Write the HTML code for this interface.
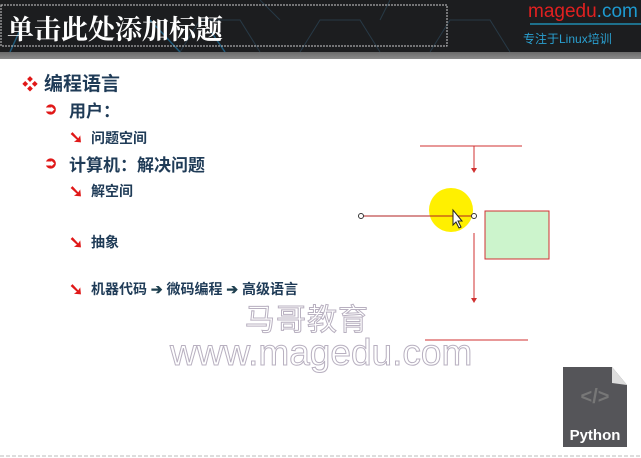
<!DOCTYPE html>
<html><head><meta charset="utf-8"><style>
body{margin:0;width:641px;height:458px;overflow:hidden;background:#fff;position:relative;font-family:"Liberation Sans","Noto Sans CJK SC",sans-serif}
.a{position:absolute;white-space:nowrap}
.hd{position:absolute;left:0;top:0;width:641px;height:52px;background:#1c1d1f}
.band{position:absolute;left:0;top:52px;width:641px;height:7px;background:linear-gradient(#6a6a6a,#8a8a8a)}
.t{color:#1f3b57;font-weight:bold}
.r{color:#e01818}
.ar{position:absolute;color:#e01818;font-size:17px;font-weight:bold;line-height:17px}
</style></head><body>
<div class="hd"></div>
<svg class="a" style="left:0;top:0" width="641" height="52">
<g stroke="#2a4150" stroke-width="1" fill="none" opacity=".8">
<path d="M180 52 L200 20 L240 20 L260 52 M260 0 L280 20 M300 52 L320 20 L360 20 L380 52 M390 0 L380 20 M430 52 L450 20 L490 20 L510 52"/>
</g>
<path d="M10 52 L20 30 M150 20 L180 52 M210 30 L225 52" stroke="#1f5a7a" stroke-width="1.5" fill="none"/>
<rect x="1" y="5" width="446" height="41" fill="none" stroke="#ccc" stroke-dasharray="2,1"/>
<line x1="530" y1="24" x2="641" y2="24" stroke="#1e8bb0" stroke-width="1.5"/>
</svg>
<div class="a" style="left:7px;top:8px;font-size:27px;color:#fff;font-weight:bold;font-family:'Noto Serif CJK SC',serif">单击此处添加标题</div>
<div class="a" style="left:528px;top:1px;font-size:19px;color:#e02020">magedu<span style="color:#1e9ad0">.com</span></div>
<div class="a" style="left:523px;top:30px;font-size:12px;color:#2aa0d0">专注于Linux培训</div>
<div class="band"></div>

<div class="a r" style="left:22px;top:71px;font-size:16px">❖</div>
<div class="a t" style="left:44px;top:69px;font-size:19px">编程语言</div>
<div class="ar" style="left:44px;top:101px;font-size:16px">➲</div>
<div class="a t" style="left:69px;top:97px;font-size:17px">用户：</div>
<div class="ar" style="left:69px;top:129px">➘</div>
<div class="a t" style="left:91px;top:128px;font-size:14px">问题空间</div>
<div class="ar" style="left:44px;top:155px;font-size:16px">➲</div>
<div class="a t" style="left:69px;top:151px;font-size:17px">计算机：解决问题</div>
<div class="ar" style="left:69px;top:183px">➘</div>
<div class="a t" style="left:91px;top:181px;font-size:14px">解空间</div>
<div class="ar" style="left:69px;top:234px">➘</div>
<div class="a t" style="left:91px;top:232px;font-size:14px">抽象</div>
<div class="ar" style="left:69px;top:281px">➘</div>
<div class="a t" style="left:91px;top:279px;font-size:14px">机器代码 <span style="color:#1f4050">➔</span> 微码编程 <span style="color:#1f4050">➔</span> 高级语言</div>

<div class="a" style="left:245px;top:295px;font-size:30px;color:#fff;-webkit-text-stroke:1px #b8b0c0;letter-spacing:1px">马哥教育</div>
<div class="a" style="left:170px;top:332px;font-size:37px;color:#fff;-webkit-text-stroke:1px #b8b0c0">www.magedu.com</div>

<svg class="a" style="left:0;top:0" width="641" height="458">
<line x1="420" y1="146" x2="522" y2="146" stroke="#d03030"/>
<line x1="474" y1="146" x2="474" y2="170" stroke="#d03030"/>
<path d="M471 168 L477 168 L474 173Z" fill="#d03030"/>
<circle cx="451" cy="210" r="22" fill="#fff000"/>
<line x1="361" y1="216" x2="474" y2="216" stroke="#b02020"/>
<circle cx="361" cy="216" r="2.5" fill="#fff" stroke="#333"/>
<circle cx="474" cy="216" r="2.5" fill="#fff" stroke="#333"/>
<path d="M453 210 L453 225 L456 222 L459 228 L461 227 L458 221 L462 221Z" fill="#fff" stroke="#222" stroke-width="1"/>
<rect x="485" y="211" width="64" height="48" fill="#ccf4cc" stroke="#d03030"/>
<line x1="474" y1="233" x2="474" y2="299" stroke="#d03030"/>
<path d="M471 298 L477 298 L474 303Z" fill="#d03030"/>
<line x1="425" y1="340" x2="528" y2="340" stroke="#d03030"/>
<path d="M563 367 L612 367 L627 385 L627 447 L563 447Z" fill="#555559"/>
<path d="M612 367 L612 383 L627 385Z" fill="#ddd"/>
<text x="595" y="403" font-family="Liberation Sans" font-size="20" font-weight="bold" fill="#777" text-anchor="middle">&lt;/&gt;</text>
<text x="595" y="440" font-family="Liberation Sans" font-size="15" font-weight="bold" fill="#fff" text-anchor="middle">Python</text>
<line x1="0" y1="456" x2="641" y2="456" stroke="#bbb" stroke-dasharray="4,2"/>
</svg>
</body></html>
